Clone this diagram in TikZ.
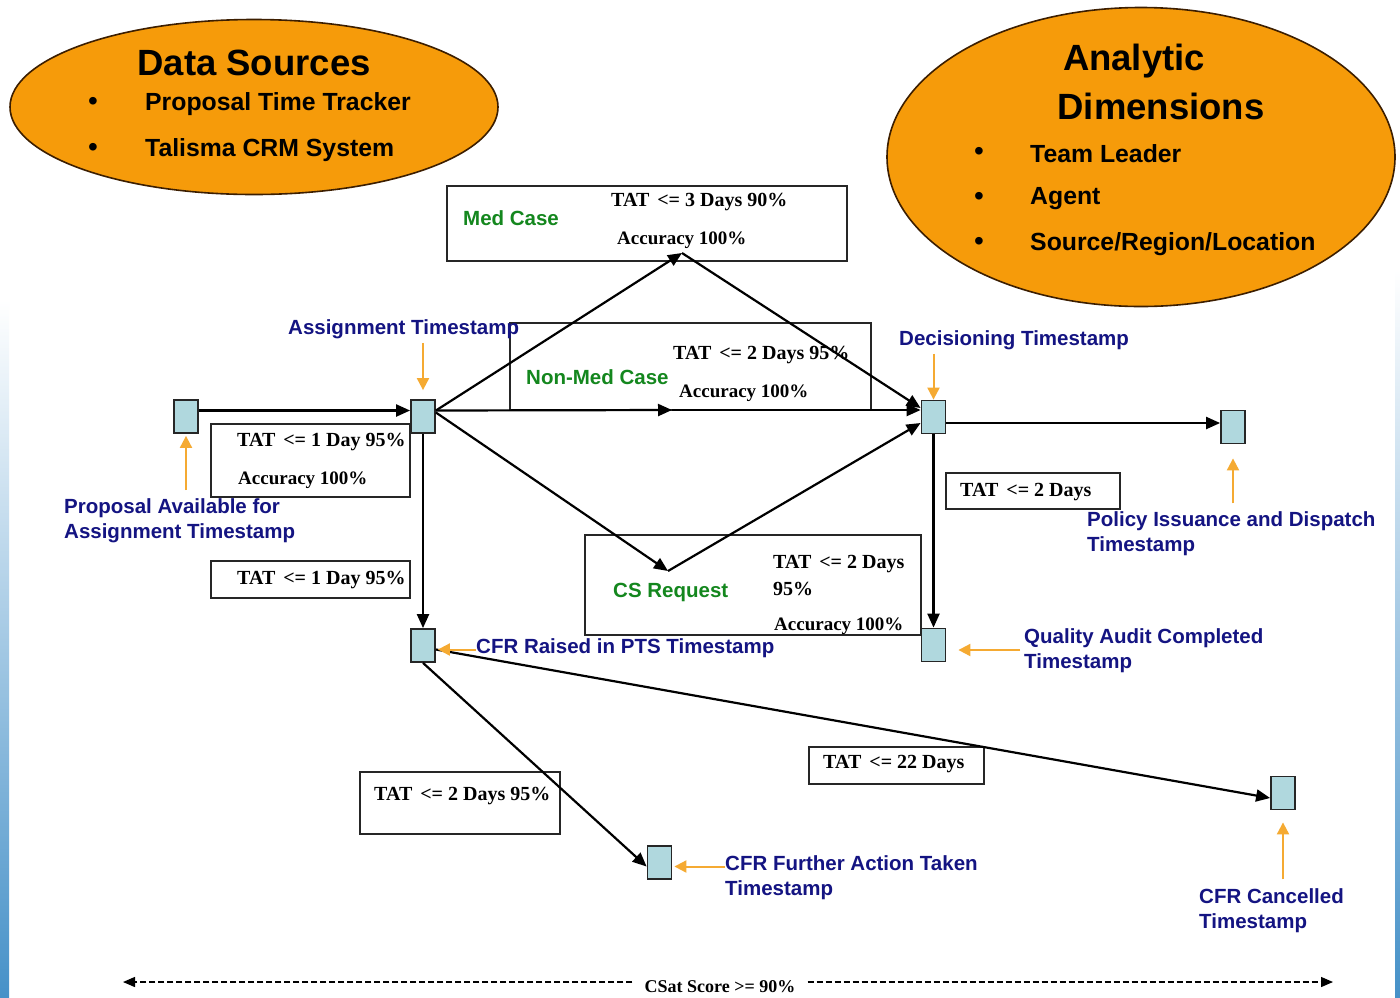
\documentclass[tikz,border=0pt]{standalone}
\usepackage{fontspec}
\setmainfont{Liberation Serif}
\newfontfamily\arialf{Liberation Sans}
\usetikzlibrary{shapes.geometric,arrows.meta,calc}
\definecolor{navy}{RGB}{20,20,130}
\definecolor{grn}{RGB}{20,135,30}
\definecolor{boxfill}{RGB}{176,216,222}
\definecolor{orarr}{RGB}{245,170,50}
\definecolor{ellfill}{RGB}{246,155,10}
\definecolor{ellline}{RGB}{60,30,0}
\definecolor{edgeblue}{RGB}{70,145,200}
\newcommand{\tatsp}{TAT\hspace{3pt} }
\begin{document}
\begin{tikzpicture}[x=1pt,y=-1pt,
  ell/.style={ellipse,draw=ellline,line width=1.6pt,fill=ellfill,inner sep=0},
  ttl/.style={font=\arialf\bfseries\fontsize{36.5}{40}\selectfont,inner sep=0},
  itm/.style={font=\arialf\bfseries\fontsize{24.8}{28}\selectfont,inner sep=0,anchor=west},
  bul/.style={font=\arialf\fontsize{28}{30}\selectfont,inner sep=0},
  tsq/.style={draw=black!85,fill=boxfill,minimum width=24,minimum height=33,inner sep=0,line width=1.8pt},
  rbox/.style={draw=black!85,line width=1.5pt,inner sep=0},
  tat/.style={font=\bfseries\fontsize{20}{23}\selectfont,inner sep=0,anchor=west},
  acc/.style={font=\bfseries\fontsize{19}{23}\selectfont,inner sep=0,anchor=west},
  lbl/.style={font=\arialf\bfseries\fontsize{20.5}{25}\selectfont,text=navy,align=left,inner sep=0,anchor=west},
  gl/.style={font=\arialf\bfseries\fontsize{20.5}{25}\selectfont,text=grn,inner sep=0,anchor=west},
  conn/.style={draw=black,line width=2.2pt,-{Triangle[length=14pt,width=12pt]}},
  oarr/.style={draw=orarr,line width=2pt,-{Triangle[length=12pt,width=12pt]}}]
\useasboundingbox (0,0) rectangle (1400,997);
\fill[white] (0,0) rectangle (1400,997);
\shade[top color=white,bottom color=edgeblue] (0,300) rectangle (9,997);
\shade[top color=white,bottom color=edgeblue] (1395,270) rectangle (1400,997);

% ellipses
\node[ell,minimum width=488,minimum height=175] (ds) at (254,107) {};
\node[ttl] (dst) at (254,63) {Data Sources};
\node[bul] (db1) at (93,104) {•};
\node[itm] (di1) at (145,104) {Proposal Time Tracker};
\node[bul] (db2) at (93,150) {•};
\node[itm] (di2) at (145,150) {Talisma CRM System};

\node[ell,minimum width=508,minimum height=299] (ad) at (1141,157) {};
\node[ttl] (adt1) at (1134,61) {Analytic};
\node[ttl] (adt2) at (1161,106) {Dimensions};
\node[bul] (ab1) at (979,154) {•};
\node[itm] (ai1) at (1030,154) {Team Leader};
\node[bul] (ab2) at (979,199) {•};
\node[itm] (ai2) at (1030,199) {Agent};
\node[bul] (ab3) at (979,244) {•};
\node[itm] (ai3) at (1030,244) {Source/Region/Location};

% rectangles
\node[rbox,minimum width=400,minimum height=75] (med) at (647,223.5) {};
\node[gl] (medl) at (463,218) {Med Case};
\node[tat] (medt1) at (611,202) {\tatsp<= 3 Days 90\%};
\node[acc] (medt2) at (617,240) {Accuracy 100\%};

\node[rbox,minimum width=361,minimum height=87] (nonmed) at (690.5,366.5) {};
\node[gl] (nml) at (526,377) {Non-Med Case};
\node[tat] (nmt1) at (673,355) {\tatsp<= 2 Days 95\%};
\node[acc] (nmt2) at (679,393) {Accuracy 100\%};

\node[rbox,minimum width=199,minimum height=73] (t1) at (310.5,460.5) {};
\node[tat] (t1a) at (237,442) {\tatsp<= 1 Day 95\%};
\node[acc] (t1b) at (238,480) {Accuracy 100\%};

\node[rbox,minimum width=199,minimum height=37] (t2) at (310.5,579.5) {};
\node[tat] (t2a) at (237,580) {\tatsp<= 1 Day 95\%};

\node[rbox,minimum width=174,minimum height=36] (t3) at (1033,491) {};
\node[tat] (t3a) at (960,492) {\tatsp<= 2 Days};

\node[rbox,minimum width=336,minimum height=100] (cs) at (753,585) {};
\node[gl] (csl) at (613,592) {CS Request};
\node[tat] (cst1) at (773,564) {\tatsp<= 2 Days};
\node[tat] (cst2) at (773,589) {95\%};
\node[acc] (cst3) at (774,626) {Accuracy 100\%};

\node[rbox,minimum width=200,minimum height=62] (t5) at (460,803) {};
\node[tat] (t5a) at (374,796) {\tatsp<= 2 Days 95\%};

\node[rbox,minimum width=175,minimum height=37] (t6) at (896.5,765.5) {};
\node[tat] (t6a) at (823,764) {\tatsp<= 22 Days};

% timestamp squares
\node[tsq] (P) at (186,416.5) {};
\node[tsq] (A) at (423,416.5) {};
\node[tsq] (D) at (933.5,417) {};
\node[tsq] (Pol) at (1233,427) {};
\node[tsq] (C) at (423,645.5) {};
\node[tsq] (Q) at (933.5,645) {};
\node[tsq] (F) at (659.5,862.5) {};
\node[tsq] (X) at (1283,793) {};

% connectors
\coordinate (medin) at (682,253);
\coordinate (nmmid) at (672,410);
\coordinate (csin) at (668,571);
\draw[conn] ([yshift=6pt]P.east) -- ([yshift=6pt]A.west);
\draw[conn] ([yshift=6pt]A.east) -- (medin);
\draw[conn] (medin) -- ([yshift=9pt]D.west);
\draw[conn] ([yshift=6pt]A.east) -- (nmmid);
\draw[conn] (nmmid) -- ([yshift=7pt]D.west);
\draw[conn] ([yshift=4pt]A.east) -- (csin);
\draw[conn] (csin) -- ([yshift=-6pt]D.west);
\draw[conn] (A.south) -- (C.north);
\draw[conn] ([yshift=-6pt]D.east) -- ([yshift=-6pt]D.east -| Pol.west);
\draw[conn] (D.south) -- (Q.north);
\draw[conn] (C.south) -- ([yshift=-4pt]F.west);
\draw[conn] ([yshift=-4pt]C.east) -- ([yshift=-5pt]X.west);

% labels with orange arrows
\node[lbl] (la) at (288,329) {Assignment Timestamp};
\draw[oarr] ([yshift=-4pt]la.south -| A.north) -- ([yshift=9pt]A.north);
\node[lbl] (lp) at (64,520.5) {Proposal Available for\\Assignment Timestamp};
\draw[oarr] ([yshift=8pt]lp.north -| P.south) -- ([yshift=-2pt]P.south);
\node[lbl] (ld) at (899,340) {Decisioning Timestamp};
\draw[oarr] ([yshift=-4pt]ld.south -| D.north) -- (D.north);
\node[lbl] (lpol) at (1087,533.5) {Policy Issuance and Dispatch\\Timestamp};
\draw[oarr] ([yshift=8pt]lpol.north -| Pol.south) -- ([yshift=-14pt]Pol.south);
\node[lbl] (lc) at (476,648) {CFR Raised in PTS Timestamp};
\draw[oarr] ([yshift=-4pt]C.east -| lc.west) -- ([xshift=2pt,yshift=-4pt]C.east);
\node[lbl] (lq) at (1024,650.5) {Quality Audit Completed\\Timestamp};
\draw[oarr] ([xshift=-4pt,yshift=-5pt]Q.east -| lq.west) -- ([xshift=12pt,yshift=-5pt]Q.east);
\node[lbl] (lf) at (725,877.5) {CFR Further Action Taken\\Timestamp};
\draw[oarr] ([yshift=-4pt]F.east -| lf.west) -- ([xshift=2pt,yshift=-4pt]F.east);
\node[lbl] (lx) at (1199,910.5) {CFR Cancelled\\Timestamp};
\draw[oarr] ([yshift=9pt]lx.north -| X.south) -- ([yshift=-12pt]X.south);

% CSat line
\node[font=\bfseries\fontsize{18}{20}\selectfont,inner ysep=0,inner xsep=12pt] (csat) at (720,987) {CSat Score >= 90\%};
\coordinate (cl) at (123,982);
\coordinate (cr) at (1333,982);
\draw[line width=1.3pt,dash pattern=on 6pt off 3pt,-{Triangle[length=12pt,width=10pt]}] (csat.west |- cl) -- (cl);
\draw[line width=1.3pt,dash pattern=on 6pt off 3pt,-{Triangle[length=12pt,width=10pt]}] (csat.east |- cr) -- (cr);
\end{tikzpicture}
\end{document}
